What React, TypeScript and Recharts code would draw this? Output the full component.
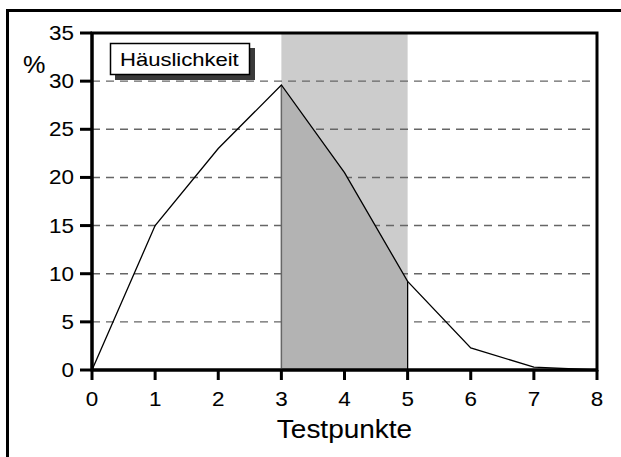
import React from 'react';
import {
  ComposedChart,
  Line,
  Area,
  XAxis,
  YAxis,
  CartesianGrid,
  ReferenceArea,
  ReferenceLine,
} from 'recharts';

const testPoints = [0, 1, 2, 3, 4, 5, 6, 7, 8];
const percentValues = [0, 15, 23, 29.6, 20.5, 9.2, 2.3, 0.3, 0];
const shadeStart = 3;
const shadeEnd = 5;
const yTicks = [0, 5, 10, 15, 20, 25, 30, 35];
const gridValues = [5, 10, 15, 20, 25, 30];
const legendLabel = 'Häuslichkeit';
const xLabel = 'Testpunkte';
const yLabel = '%';

const data = testPoints.map((x, i) => ({
  x,
  val: percentValues[i],
  shade: x >= shadeStart && x <= shadeEnd ? percentValues[i] : null,
}));

const shadeStartValue = percentValues[testPoints.indexOf(shadeStart)];
const shadeEndValue = percentValues[testPoints.indexOf(shadeEnd)];

const FONT = '"Liberation Sans", Arial, Helvetica, sans-serif';

function StretchText({ x, y, size, anchor, sx = 1.12, children }: any) {
  return (
    <text
      transform={`translate(${x} ${y}) scale(${sx} 1)`}
      x={0}
      y={0}
      fontSize={size}
      fontFamily={FONT}
      fill="#000"
      stroke="#000"
      strokeWidth={0.08}
      textAnchor={anchor}
    >
      {children}
    </text>
  );
}

function XTick(props: any) {
  const { x, y, payload } = props;
  return (
    <StretchText x={x} y={y + 16} size={20} anchor="middle">
      {payload.value}
    </StretchText>
  );
}

function YTick(props: any) {
  const { x, y, payload } = props;
  return (
    <StretchText x={x} y={y + 7} size={20} anchor="end">
      {payload.value}
    </StretchText>
  );
}

export default function App() {
  return (
    <div style={{ position: 'absolute', left: 0, top: 0, width: 621, height: 457, overflow: 'hidden', background: '#fff' }}>
      <div style={{ position: 'absolute', left: 0, top: 0 }}>
        <ComposedChart
          width={621}
          height={457}
          data={data}
          margin={{ top: 33, right: 24, bottom: 0, left: 0 }}
        >
          <ReferenceArea
            x1={shadeStart}
            x2={shadeEnd}
            y1={0}
            y2={35}
            fill="#cccccc"
            fillOpacity={1}
            stroke="none"
            zIndex={-200}
            ifOverflow="visible"
          />
          <CartesianGrid
            vertical={false}
            horizontalValues={gridValues}
            stroke="#666"
            strokeWidth={1.4}
            strokeDasharray="8 6"
          />
          <XAxis
            dataKey="x"
            type="number"
            domain={[0, 8]}
            ticks={testPoints}
            interval={0}
            height={87}
            tickSize={10}
            tickMargin={10}
            axisLine={{ stroke: '#000', strokeWidth: 3 }}
            tickLine={{ stroke: '#000', strokeWidth: 3 }}
            tick={<XTick />}
          />
          <YAxis
            type="number"
            domain={[0, 35]}
            ticks={yTicks}
            interval={0}
            width={92}
            tickSize={12}
            tickMargin={6}
            axisLine={{ stroke: '#000', strokeWidth: 3 }}
            tickLine={{ stroke: '#000', strokeWidth: 3 }}
            tick={<YTick />}
          />
          <Area
            dataKey="shade"
            type="linear"
            fill="#b3b3b3"
            fillOpacity={1}
            stroke="none"
            isAnimationActive={false}
            dot={false}
            activeDot={false}
          />
          <ReferenceLine
            segment={[{ x: shadeStart, y: 0 }, { x: shadeStart, y: shadeStartValue }]}
            stroke="#666"
            strokeWidth={1.5}
          />
          <ReferenceLine
            segment={[{ x: shadeEnd, y: 0 }, { x: shadeEnd, y: shadeEndValue }]}
            stroke="#000"
            strokeWidth={1.3}
          />
          <Line
            dataKey="val"
            type="linear"
            stroke="#000"
            strokeWidth={1.3}
            dot={false}
            activeDot={false}
            isAnimationActive={false}
          />
          <ReferenceArea
            x1={0}
            x2={8}
            y1={0}
            y2={35}
            fill="none"
            stroke="#000"
            strokeWidth={3}
            ifOverflow="visible"
          />
        </ComposedChart>
      </div>
      <svg
        width={621}
        height={457}
        style={{ position: 'absolute', left: 0, top: 0, pointerEvents: 'none' }}
      >
        <rect x={7.5} y={10.5} width={700} height={600} fill="none" stroke="#000" strokeWidth={3} />
        <rect x={115} y={48} width={140} height={32} fill="#3a3a3a" />
        <rect x={110.5} y={43.5} width={139} height={31} fill="#fff" stroke="#000" strokeWidth={1.5} />
        <StretchText x={120} y={66} size={19} sx={1.16} anchor="start">{legendLabel}</StretchText>
        <StretchText x={23} y={73} size={24} sx={1.05} anchor="start">{yLabel}</StretchText>
        <StretchText x={344.5} y={438} size={25} sx={1.12} anchor="middle">{xLabel}</StretchText>
      </svg>
    </div>
  );
}
